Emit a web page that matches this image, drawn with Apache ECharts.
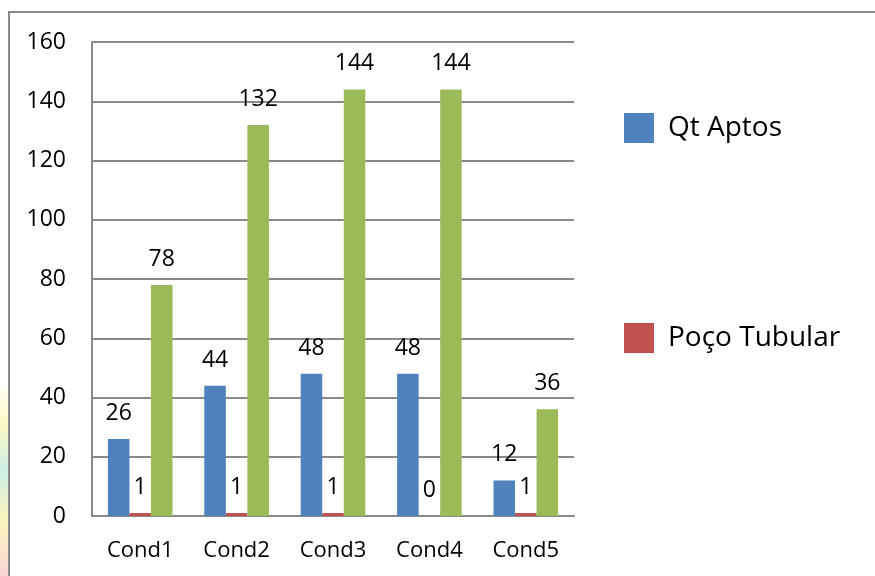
<!DOCTYPE html>
<html>
<head>
<meta charset="utf-8">
<script src="https://cdn.jsdelivr.net/npm/echarts@6/dist/echarts.min.js"></script>
<style>
html,body{margin:0;padding:0;background:#fff;}
#chart{width:875px;height:576px;}
</style>
</head>
<body>
<div id="chart"></div>
<script>
const categories = ['Cond1', 'Cond2', 'Cond3', 'Cond4', 'Cond5'];
const qtAptos = [26, 44, 48, 48, 12];
const pocoTubular = [1, 1, 1, 0, 1];
const terceiraSerie = [78, 132, 144, 144, 36];
const yTicks = { min: 0, max: 160, interval: 20 };

const FONT = '"Open Sans", "Noto Sans", sans-serif';
const chart = echarts.init(document.getElementById('chart'), null, { renderer: 'canvas' });

const labelStyle = {
  show: true,
  position: 'top',
  distance: 14,
  color: '#000',
  fontSize: 23,
  fontFamily: FONT
};

chart.setOption({
  animation: false,
  backgroundColor: '#fff',
  textStyle: { fontFamily: FONT },
  graphic: [
    {
      type: 'rect',
      shape: { x: 0, y: 385, width: 8, height: 191 },
      style: {
        fill: {
          type: 'linear', x: 0, y: 0, x2: 0, y2: 1,
          colorStops: [
            { offset: 0, color: 'rgba(255,255,210,0.2)' },
            { offset: 0.2, color: '#fcf9c4' },
            { offset: 0.45, color: '#cdeee6' },
            { offset: 0.7, color: '#faf5bd' },
            { offset: 1, color: '#fad6d6' }
          ]
        }
      },
      z: 0
    },
    {
      type: 'polyline',
      shape: { points: [[9, 700], [9, 12], [1000, 12]] },
      style: { fill: null, stroke: '#8a8a8a', lineWidth: 2 },
      z: 1
    }
  ],
  legend: {
    data: ['Qt Aptos', 'Poço Tubular'],
    orient: 'vertical',
    left: 624,
    top: 113,
    padding: 0,
    itemWidth: 30,
    itemHeight: 30,
    itemGap: 180,
    icon: 'rect',
    textStyle: { fontSize: 28, color: '#000', fontFamily: FONT, padding: [0, 0, 0, 9] }
  },
  grid: { left: 92, right: 301, top: 42, bottom: 60, containLabel: false },
  xAxis: {
    type: 'category',
    data: categories,
    axisTick: { show: false },
    axisLine: { show: true, lineStyle: { color: '#8a8a8a', width: 2 } },
    axisLabel: { color: '#000', fontSize: 22, fontFamily: FONT, margin: 24 }
  },
  yAxis: {
    type: 'value',
    min: yTicks.min,
    max: yTicks.max,
    interval: yTicks.interval,
    axisLine: { show: true, lineStyle: { color: '#8a8a8a', width: 2 } },
    axisTick: { show: false },
    axisLabel: { color: '#000', fontSize: 23, fontFamily: FONT, margin: 26 },
    splitLine: { show: true, lineStyle: { color: '#8a8a8a', width: 2 } }
  },
  series: [
    {
      name: 'Qt Aptos', type: 'bar', data: qtAptos,
      itemStyle: { color: '#4F81BD' },
      barGap: '0%', barCategoryGap: '33%',
      label: labelStyle
    },
    {
      name: 'Poço Tubular', type: 'bar', data: pocoTubular,
      itemStyle: { color: '#C0504D' },
      label: labelStyle
    },
    {
      name: 'Moradores', type: 'bar', data: terceiraSerie,
      itemStyle: { color: '#9BBB59' },
      label: labelStyle
    }
  ]
});
</script>
</body>
</html>
